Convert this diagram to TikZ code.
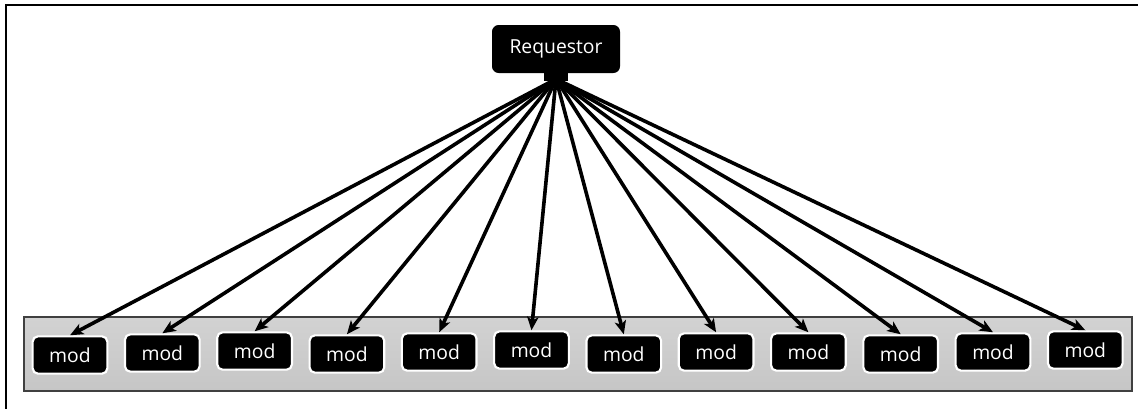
\documentclass[tikz,border=0pt]{standalone}
\usepackage{fontspec}
\setmainfont{Open Sans}
\usetikzlibrary{arrows.meta}
\definecolor{panelgray}{HTML}{C6C6C6}
\definecolor{panelgraylight}{HTML}{D2D2D2}
\begin{document}
\begin{tikzpicture}[x=0.75pt,y=-0.75pt,
  modbox/.style={draw=white, line width=1.6pt, fill=black, rounded corners=4pt,
    minimum width=56pt, minimum height=28pt, inner sep=0pt, text=white, font=\fontsize{14.5}{16}\selectfont},
  reqbox/.style={fill=black, rounded corners=5pt, minimum width=96pt, minimum height=36pt,
    inner sep=0pt, text=white, font=\fontsize{14.5}{16}\selectfont},
  conn/.style={line width=2.7pt, -{Stealth[length=10pt,width=8.5pt,inset=2.5pt]}}
]
\useasboundingbox (0,0) rectangle (1138,408);
\fill[white] (0,0) rectangle (1138,408);
% outer frame (only top and left edges visible)
\draw[line width=2pt] (6,420) -- (6,5) -- (1150,5);
% panel
\shade[top color=panelgraylight, bottom color=panelgray] (24,317) rectangle (1132,391);
\draw[line width=0.9pt, black!75] (24,317) rectangle (1132,391);
% requestor
\node[reqbox] (req) at (556,49) {Requestor};
\fill[black] (544,73) rectangle (568,81);
\coordinate (src) at (556,79);
% modules
\foreach \i/\dy in {0/3,1/1,2/-1,3/2,4/0,5/-2,6/2,7/0,8/0,9/2,10/0,11/-2}{
  \node[modbox] (m\i) at ({70+92.3*\i},{352+\dy}) {mod};
  \draw[conn] (src) -- (m\i.north);
}
\end{tikzpicture}
\end{document}
